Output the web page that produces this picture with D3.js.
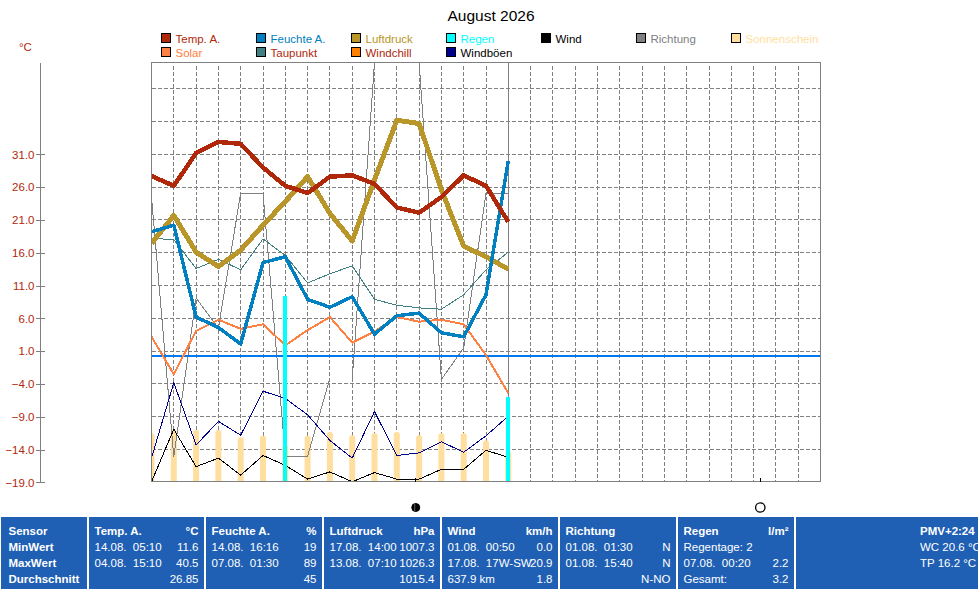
<!DOCTYPE html>
<html>
<head>
<meta charset="utf-8">
<script src="https://cdn.jsdelivr.net/npm/d3@7"></script>
<style>
  html, body { margin: 0; padding: 0; background: #fff; overflow: hidden; }
  svg { display: block; font-family: "Liberation Sans", Arial, sans-serif; }
  .crisp { shape-rendering: crispEdges; }
</style>
</head>
<body>
<div id="chart"></div>
<script>
// Chart values (everything on the shared °C axis)
var days = [1, 2, 3, 4, 5, 6, 7, 8, 9, 10, 11, 12, 13, 14, 15, 16, 17];
var temp = [27.7, 26.2, 31.2, 32.9, 32.6, 29.0, 26.2, 25.1, 27.6, 27.8, 26.5, 22.9, 22.1, 24.5, 27.8, 26.2, 20.7];
var feuchte = [19.2, 20.2, 6.2, 4.6, 2.1, 14.5, 15.4, 8.9, 7.7, 9.3, 3.6, 6.4, 6.8, 3.8, 3.2, 9.6, 30.0];
var luftdruck = [17.4, 21.7, 16.1, 13.9, 16.4, 20.2, 23.8, 27.6, 22.0, 17.8, 27.1, 36.2, 35.7, 25.6, 17.0, 15.4, 13.5];
var taupunkt = [18.2, 18.0, 13.6, 15.0, 13.4, 18.1, 15.6, 11.4, 12.8, 14.0, 8.9, 8.0, 7.6, 7.4, 9.6, 13.4, 16.1];
var solar = [3.2, -2.5, 4.1, 5.8, 4.4, 5.1, 1.9, 4.2, 6.2, 2.3, 4.0, 6.2, 5.5, 5.8, 5.1, 0.4, -5.4];
var windboeen = [-15.3, -3.8, -13.3, -9.7, -11.8, -5.1, -6.2, -8.7, -12.6, -15.3, -8.2, -14.9, -14.5, -12.8, -14.4, -11.9, -8.9];
var wind = [-18.9, -10.9, -16.6, -15.3, -17.9, -14.9, -16.4, -18.5, -17.4, -18.9, -17.5, -18.5, -18.5, -17.0, -17.0, -14.1, -15.2];
// the direction line is broken between day 9 and day 10
var richtungDays1 = [1, 2, 3, 4, 5, 6, 7, 8, 9];
var richtung1 = [24.5, -15.1, 9.1, 4.5, 25.1, 25.1, -15.0, -15.0, -3.1];
var richtungDays2 = [10, 11, 12, 13, 14, 15, 16, 17];
var richtung2 = [-3.4, 45, 45, 45, -3.3, 1.5, 25.1, 25.1];
var regen = [-19, -19, -19, -19, -19, -19, 9.4, -19, -19, -19, -19, -19, -19, -19, -19, -19, -6.0];
var sonne = [-11.5, -11.0, -11.0, -11.0, -12.1, -11.9, -13.3, -11.9, -11.3, -11.8, -11.5, -11.3, -11.8, -11.5, -11.5, -12.6, -14.2];
var zeroLine = 0.3;
var yTicks = [31, 26, 21, 16, 11, 6, 1, -4, -9, -14, -19];
var yGrid = [41, 36, 31, 26, 21, 16, 11, 6, 1, -4, -9, -14];
var newMoonDay = 12.85;
var fullMoonDay = 28.3;

// Legend
var legendNames = ["Temp. A.", "Solar", "Feuchte A.", "Taupunkt", "Luftdruck", "Windchill", "Regen", "Windböen", "Wind", null, "Richtung", null, "Sonnenschein", null];
var legendSwatches = ["#b0280a", "#ff8040", "#0080c0", "#408080", "#b8962a", "#ff8000", "#00ffff", "#000090", "#000000", null, "#808080", null, "#ffdf9f", null];
var legendText = ["#b0280a", "#ff8040", "#0080c0", "#b0280a", "#b8962a", "#b0280a", "#00ffff", "#000000", "#000000", null, "#808080", null, "#ffdf9f", null];

// Table under the chart
var colSensor = ["Sensor", "MinWert", "MaxWert", "Durchschnitt"];
var colTemp = [["Temp. A.", "°C"], ["14.08.  05:10", "11.6"], ["04.08.  15:10", "40.5"], ["", "26.85"]];
var colFeuchte = [["Feuchte A.", "%"], ["14.08.  16:16", "19"], ["07.08.  01:30", "89"], ["", "45"]];
var colDruck = [["Luftdruck", "hPa"], ["17.08.  14:00", "1007.3"], ["13.08.  07:10", "1026.3"], ["", "1015.4"]];
var colWind = [["Wind", "km/h"], ["01.08.  00:50", "0.0"], ["17.08.  17W-SW", "20.9"], ["637.9 km", "1.8"]];
var colRichtung = [["Richtung", ""], ["01.08.  01:30", "N"], ["01.08.  15:40", "N"], ["", "N-NO"]];
var colRegen = [["Regen", "l/m²"], ["Regentage: 2", ""], ["07.08.  00:20", "2.2"], ["Gesamt:", "3.2"]];
var colExtra = ["PMV+2:24", "WC 20.6 °C", "TP 16.2 °C"];

var svgWidth = 978;
var svgHeight = 589;

var svg = d3.select("#chart")
  .append("svg")
  .attr("width", svgWidth)
  .attr("height", svgHeight);

var plot = { left: 151.5, right: 820.5, top: 62.5, bottom: 481.5 };

var xScale = d3.scaleLinear().domain([1, 31]).range([plot.left, plot.right]);
var yScale = d3.scaleLinear().domain([-19, 45]).range([482.4, 62.5]);

var GREY = "#808080";
var RED = "#b0280a";

// Title and unit
svg.append("text")
  .attr("x", 491)
  .attr("y", 20.5)
  .attr("text-anchor", "middle")
  .attr("font-size", 15.5)
  .attr("fill", "#000")
  .text("August 2026");

svg.append("text")
  .attr("x", 19)
  .attr("y", 51)
  .attr("font-size", 11.5)
  .attr("fill", RED)
  .text("°C");

// Legend
legendNames.forEach(function(name, i) {
  if (name === null) return;
  var lx = 161.5 + Math.floor(i / 2) * 95;
  var ly = 33.5 + (i % 2) * 14;
  svg.append("rect")
    .attr("class", "crisp")
    .attr("x", lx)
    .attr("y", ly)
    .attr("width", 9)
    .attr("height", 9)
    .attr("fill", legendSwatches[i])
    .attr("stroke", "#000");
  svg.append("text")
    .attr("x", lx + 14)
    .attr("y", ly + 9)
    .attr("font-size", 11.5)
    .attr("fill", legendText[i])
    .text(name);
});

// Left axis
var yAxis = d3.axisLeft(yScale)
  .tickValues(yTicks)
  .tickSize(5)
  .tickFormat(d3.format(".1f"));

var axisGroup = svg.append("g")
  .attr("class", "crisp")
  .attr("transform", "translate(40.5, 0)")
  .call(yAxis);

axisGroup.selectAll("path, line").attr("stroke", GREY);
axisGroup.select(".domain").attr("d", "M0,62.5V482.4");
axisGroup.selectAll(".tick line").attr("x1", -5).attr("x2", 4);
axisGroup.selectAll(".tick text")
  .attr("x", -6)
  .attr("font-family", "Liberation Sans")
  .attr("font-size", 11.5)
  .attr("fill", RED);

// Grid
var gridGroup = svg.append("g").attr("class", "crisp");

gridGroup.selectAll(".hgrid")
  .data(yGrid)
  .enter().append("line")
  .attr("x1", plot.left)
  .attr("x2", plot.right)
  .attr("y1", function(d) { return yScale(d); })
  .attr("y2", function(d) { return yScale(d); })
  .attr("stroke", GREY)
  .attr("stroke-dasharray", "4,2");

gridGroup.selectAll(".vgrid")
  .data(d3.range(2, 31))
  .enter().append("line")
  .attr("x1", function(d) { return xScale(d); })
  .attr("x2", function(d) { return xScale(d); })
  .attr("y1", plot.top + 3)
  .attr("y2", plot.bottom)
  .attr("stroke", GREY)
  .attr("stroke-dasharray", "4,2");

// Clip everything to the plot area
svg.append("clipPath")
  .attr("id", "plotClip")
  .append("rect")
  .attr("x", plot.left)
  .attr("y", plot.top)
  .attr("width", plot.right - plot.left)
  .attr("height", plot.bottom - plot.top);

var marks = svg.append("g").attr("clip-path", "url(#plotClip)");

// Sunshine bars with rounded tops
marks.selectAll(".sun")
  .data(sonne)
  .enter().append("rect")
  .attr("x", function(d, i) { return xScale(days[i]) - 3; })
  .attr("y", function(d) { return yScale(d); })
  .attr("width", 6)
  .attr("height", function(d) { return yScale(-19) - yScale(d) + 4; })
  .attr("rx", 2.5)
  .attr("fill", "#ffdf9f");

function drawLine(xs, values, color, width) {
  var line = d3.line()
    .x(function(d, i) { return xScale(xs[i]); })
    .y(function(d) { return yScale(d); });
  marks.append("path")
    .attr("class", "crisp")
    .attr("d", line(values))
    .attr("fill", "none")
    .attr("stroke", color)
    .attr("stroke-width", width)
    .attr("stroke-linejoin", "round");
}

drawLine(richtungDays1, richtung1, GREY, 1);
drawLine(richtungDays2, richtung2, GREY, 1);

// Current day marker
marks.append("line")
  .attr("class", "crisp")
  .attr("x1", xScale(17))
  .attr("x2", xScale(17))
  .attr("y1", plot.top)
  .attr("y2", plot.bottom)
  .attr("stroke", GREY);

marks.append("line")
  .attr("class", "crisp")
  .attr("x1", plot.left)
  .attr("x2", plot.right)
  .attr("y1", yScale(zeroLine))
  .attr("y2", yScale(zeroLine))
  .attr("stroke", "#0078f0")
  .attr("stroke-width", 2);

drawLine(days, wind, "#000", 1);
drawLine(days, windboeen, "#000090", 1);
drawLine(days, taupunkt, "#408080", 1);
drawLine(days, solar, "#ff8040", 2);
drawLine(days, luftdruck, "#b8962a", 5);
drawLine(days, feuchte, "#0080c0", 3.5);
drawLine(days, temp, RED, 4.5);

// Rain bars; a dry day still leaves a small mark on the base line
marks.selectAll(".rain")
  .data(regen)
  .enter().append("rect")
  .attr("class", "crisp")
  .attr("x", function(d, i) { return xScale(days[i]) - 2; })
  .attr("y", function(d) { return Math.min(yScale(d), plot.bottom - 1); })
  .attr("width", 4)
  .attr("height", function(d) { return Math.max(plot.bottom - yScale(d), 1); })
  .attr("fill", "#00ffff");

// Frame
svg.append("rect")
  .attr("class", "crisp")
  .attr("x", plot.left)
  .attr("y", plot.top)
  .attr("width", plot.right - plot.left)
  .attr("height", plot.bottom - plot.top)
  .attr("fill", "none")
  .attr("stroke", GREY);

// Moon phases
[newMoonDay, fullMoonDay].forEach(function(day, i) {
  var mx = xScale(day);
  svg.append("line")
    .attr("class", "crisp")
    .attr("x1", mx).attr("x2", mx)
    .attr("y1", 478).attr("y2", 482)
    .attr("stroke", "#000");
  svg.append("circle")
    .attr("cx", mx)
    .attr("cy", 507.5)
    .attr("r", i === 0 ? 4 : 4.7)
    .attr("fill", i === 0 ? "#000" : "#fff")
    .attr("stroke", "#000")
    .attr("stroke-width", i === 0 ? 1 : 1.3);
  if (i === 0) {
    svg.append("line")
      .attr("x1", mx - 1).attr("x2", mx - 1)
      .attr("y1", 504).attr("y2", 511)
      .attr("stroke", "#777")
      .attr("stroke-width", 0.8);
  }
});

// Table panels
var panelTop = 517;
var panelHeight = 72;
var rowY = [535, 551, 567, 583];
var panels = [
  { x: 1, w: 86 },
  { x: 89, w: 115, col: colTemp },
  { x: 206, w: 116, col: colFeuchte },
  { x: 324, w: 116, col: colDruck },
  { x: 442, w: 116, col: colWind },
  { x: 560, w: 116, col: colRichtung },
  { x: 678, w: 116, col: colRegen },
  { x: 796, w: 182 }
];

var tableGroup = svg.append("g");

panels.forEach(function(p) {
  tableGroup.append("rect")
    .attr("class", "crisp")
    .attr("x", p.x)
    .attr("y", panelTop)
    .attr("width", p.w)
    .attr("height", panelHeight)
    .attr("fill", "#1f5fb4");
  if (!p.col) return;
  p.col.forEach(function(row, r) {
    var weight = r === 0 ? "bold" : "normal";
    tableGroup.append("text")
      .attr("x", p.x + 5.5)
      .attr("y", rowY[r])
      .attr("font-size", 11.5)
      .attr("font-weight", weight)
      .attr("fill", "#fff")
      .style("white-space", "pre")
      .text(row[0]);
    tableGroup.append("text")
      .attr("x", p.x + p.w - 5.5)
      .attr("y", rowY[r])
      .attr("text-anchor", "end")
      .attr("font-size", 11.5)
      .attr("font-weight", weight)
      .attr("fill", "#fff")
      .text(row[1]);
  });
});

colSensor.forEach(function(label, r) {
  tableGroup.append("text")
    .attr("x", 8.5)
    .attr("y", rowY[r])
    .attr("font-size", 11.5)
    .attr("font-weight", "bold")
    .attr("fill", "#fff")
    .text(label);
});

colExtra.forEach(function(label, r) {
  tableGroup.append("text")
    .attr("x", 920)
    .attr("y", rowY[r])
    .attr("font-size", 11.5)
    .attr("font-weight", r === 0 ? "bold" : "normal")
    .attr("fill", "#fff")
    .text(label);
});
</script>
</body>
</html>
